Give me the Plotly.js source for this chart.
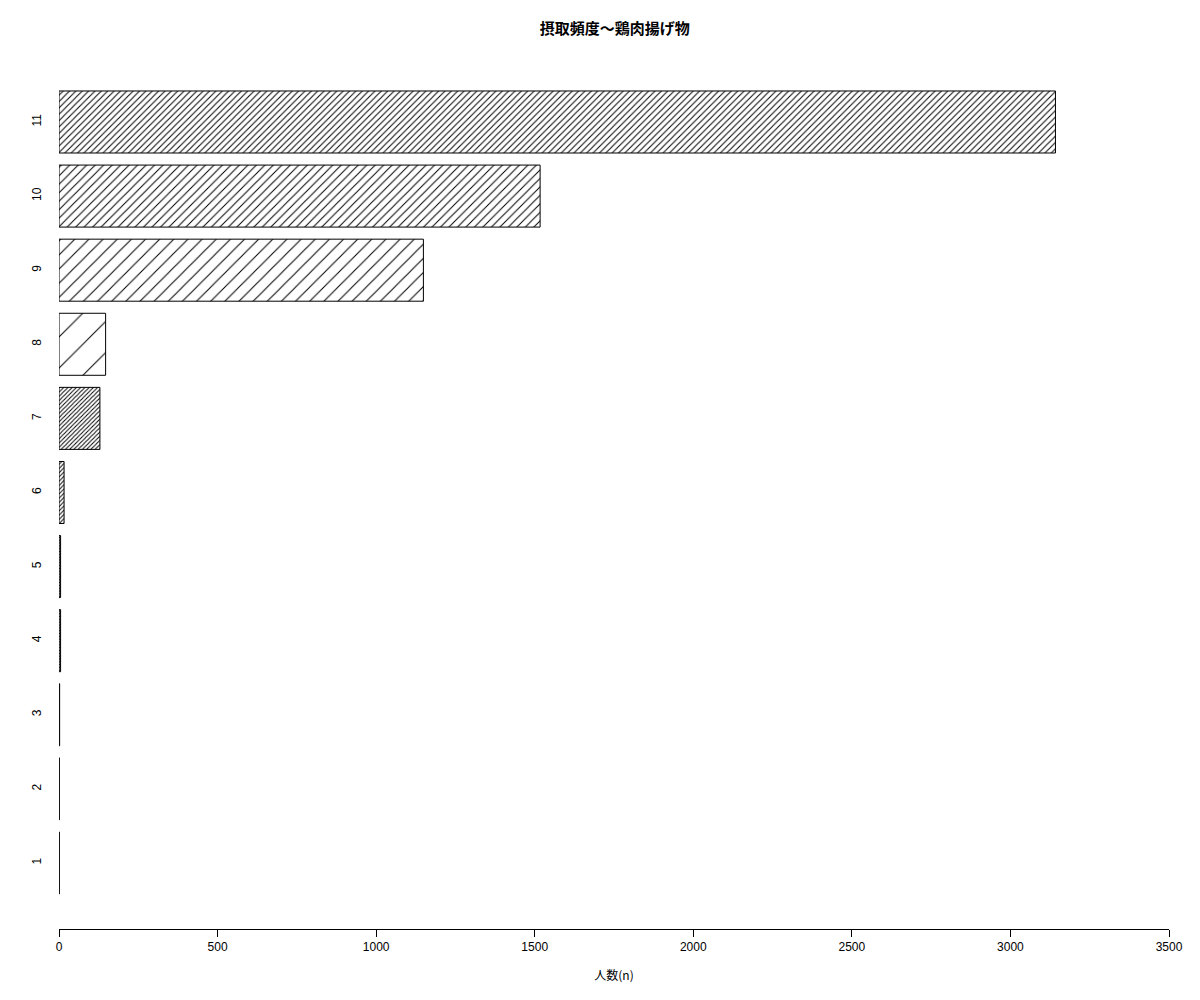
<!DOCTYPE html>
<html>
<head>
<meta charset="utf-8">
<script src="https://cdn.plot.ly/plotly-3.0.1.min.js"></script>
<style>
  body { margin: 0; background: #fff; }
  #chart { width: 1200px; height: 1000px; }
</style>
</head>
<body>
<div id="chart"></div>
<script>
// 摂取頻度カテゴリ（1〜11）と人数
var categories = [1, 2, 3, 4, 5, 6, 7, 8, 9, 10, 11];
var counts = [1, 1, 2, 5, 5, 16, 129, 147, 1149, 1517, 3142];
var xTicks = [0, 500, 1000, 1500, 2000, 2500, 3000, 3500];

// hatch spacing per bar (px), like R's density argument
var hatchSize = [2, 2, 2, 2, 2, 3, 3, 22, 10, 6, 4.5];
var hatchSolidity = hatchSize.map(function (s) { return Math.min(0.5, 1 / s); });

var fontFam = '"Liberation Sans", "Noto Sans CJK JP", sans-serif';

var trace = {
  type: 'bar',
  orientation: 'h',
  x: counts,
  y: categories,
  width: 0.837,
  marker: {
    color: '#ffffff',
    line: { color: '#000000', width: 1 },
    pattern: {
      shape: '/',
      size: hatchSize,
      solidity: hatchSolidity,
      fgcolor: '#000000',
      bgcolor: '#ffffff',
      fillmode: 'replace'
    }
  },
  hoverinfo: 'x+y'
};

var layout = {
  width: 1200,
  height: 1000,
  margin: { l: 59, r: 31, t: 57, b: 71 },
  paper_bgcolor: '#ffffff',
  plot_bgcolor: '#ffffff',
  showlegend: false,
  font: { family: fontFam, size: 12, color: '#000000' },
  title: {
    text: '<b>摂取頻度～鶏肉揚げ物</b>',
    font: { family: '"Noto Sans CJK JP", sans-serif', size: 15, color: '#000000' },
    x: 0.5122, xanchor: 'center',
    y: 0.971, yanchor: 'middle'
  },
  xaxis: {
    range: [0, 3500],
    tickvals: xTicks,
    ticktext: xTicks.map(String),
    ticks: 'outside',
    ticklen: 7,
    tickwidth: 1,
    tickcolor: '#000000',
    showline: true,
    linecolor: '#000000',
    linewidth: 1,
    showgrid: false,
    zeroline: false,
    tickfont: { size: 12 },
    title: { text: '人数(n)', font: { family: '"Noto Sans CJK JP", sans-serif', size: 12 }, standoff: 18 },
    automargin: false
  },
  yaxis: {
    range: [0.109, 11.877],
    tickvals: categories,
    ticktext: categories.map(String),
    tickangle: -90,
    ticks: '',
    showline: false,
    showgrid: false,
    zeroline: false,
    ticklabelstandoff: 15,
    tickfont: { size: 12 },
    automargin: false
  }
};

Plotly.newPlot('chart', [trace], layout, { displayModeBar: false, staticPlot: true });
</script>
</body>
</html>
